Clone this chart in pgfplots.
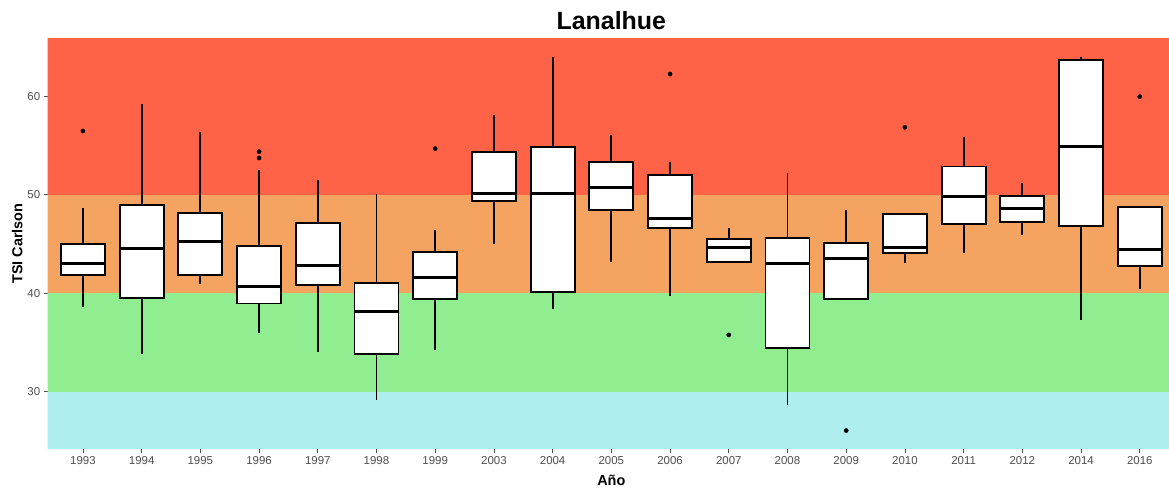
\documentclass[border=0pt]{standalone}
\usepackage{fontspec}
\setmainfont{Liberation Sans}
\usepackage{pgfplots}
\pgfplotsset{compat=1.18}
\usepgfplotslibrary{statistics}
\definecolor{tomatoc}{RGB}{255,99,71}
\definecolor{sandyc}{RGB}{244,164,96}
\definecolor{lgreenc}{RGB}{144,238,144}
\definecolor{pturqc}{RGB}{175,238,238}
\definecolor{tickgray}{RGB}{77,77,77}
\pgfplotsset{
  bx/.style={draw=black, fill=white, line width=1.8bp, solid,
    boxplot/whisker extend=0,
    boxplot/every box/.style={draw=black, fill=white, line width=1.8bp},
    boxplot/every whisker/.style={draw=black, line width=1.8bp},
    boxplot/every median/.style={draw=black, line width=3bp}},
}
\newcommand{\bx}[6]{\addplot[bx, boxplot prepared={draw position=#1, lower whisker=#2, lower quartile=#3, median=#4, upper quartile=#5, upper whisker=#6}] coordinates {};}
\begin{document}
\begin{tikzpicture}
\path[use as bounding box] (0,0) rectangle (1169bp,491bp);
\begin{axis}[
  at={(47.7bp,42bp)}, anchor=south west,
  scale only axis, width=1127.3bp, height=410.7bp,
  xmin=0.4, xmax=19.6, ymin=24.2, ymax=65.86,
  boxplot/draw direction=y,
  boxplot/box extend=0.75,
  axis line style={draw=none},
  tick align=outside, major tick length=4bp,
  tick style={tickgray, line width=0.8bp},
  xtick pos=bottom, ytick pos=left,
  xtick={1,...,19},
  xticklabels={1993,1994,1995,1996,1997,1998,1999,2003,2004,2005,2006,2007,2008,2009,2010,2011,2012,2014,2016},
  ytick={30,40,50,60},
  /pgf/number format/assume math mode=true,
  ticklabel style={font=\fontsize{11.5}{13}\selectfont, text=tickgray},
  title={\bfseries Lanalhue},
  title style={font=\fontsize{25}{28}\selectfont, at={(axis description cs:0.5,1.006)}, anchor=base},
  xlabel={\bfseries Año},
  xlabel style={font=\fontsize{14.5}{16}\selectfont, at={(axis description cs:0.5,-0.0877)}, anchor=base},
  ylabel={\bfseries TSI Carlson},
  ylabel style={font=\fontsize{14.5}{16}\selectfont, at={(axis description cs:-0.027,0.5)}, anchor=center},
]
\addplot[fill=tomatoc, draw=none] coordinates {(0,50) (20,50) (20,70) (0,70)};
\addplot[fill=sandyc, draw=none] coordinates {(0,40) (20,40) (20,50) (0,50)};
\addplot[fill=lgreenc, draw=none] coordinates {(0,30) (20,30) (20,40) (0,40)};
\addplot[fill=pturqc, draw=none] coordinates {(0,20) (20,20) (20,30) (0,30)};
\bx{1}{38.64}{41.89}{43.04}{44.97}{48.6}
\bx{2}{33.81}{39.55}{44.56}{48.96}{59.2}
\bx{3}{40.94}{41.89}{45.27}{48.11}{56.36}
\bx{4}{35.97}{38.95}{40.67}{44.76}{52.5}
\bx{5}{34.08}{40.84}{42.77}{47.16}{51.49}
\bx{6}{29.18}{33.87}{38.17}{41.01}{50.07}
\bx{7}{34.25}{39.42}{41.62}{44.22}{46.39}
\bx{8}{45.0}{49.33}{50.1}{54.33}{58.08}
\bx{9}{38.38}{40.13}{50.1}{54.8}{63.93}
\bx{10}{43.2}{48.48}{50.71}{53.29}{56.02}
\bx{11}{39.76}{46.59}{47.6}{52.0}{53.29}
\bx{12}{43.17}{43.17}{44.66}{45.54}{46.65}
\bx{13}{28.67}{34.48}{42.97}{45.64}{52.23}
\bx{14}{39.42}{39.42}{43.55}{45.07}{48.45}
\bx{15}{43.04}{44.06}{44.63}{48.0}{48.0}
\bx{16}{44.06}{47.0}{49.84}{52.85}{55.85}
\bx{17}{45.94}{47.26}{48.55}{49.87}{51.19}
\bx{18}{37.3}{46.8}{54.84}{63.69}{63.93}
\bx{19}{40.4}{42.8}{44.42}{48.75}{48.75}
\addplot[only marks, mark=*, mark size=2.1bp, black] coordinates {
  (1,56.46) (4,54.36) (4,53.72) (7,54.67) (11,62.24) (12,35.77)
  (14,26.07) (15,56.83) (19,59.94)};
\end{axis}
\end{tikzpicture}
\end{document}
